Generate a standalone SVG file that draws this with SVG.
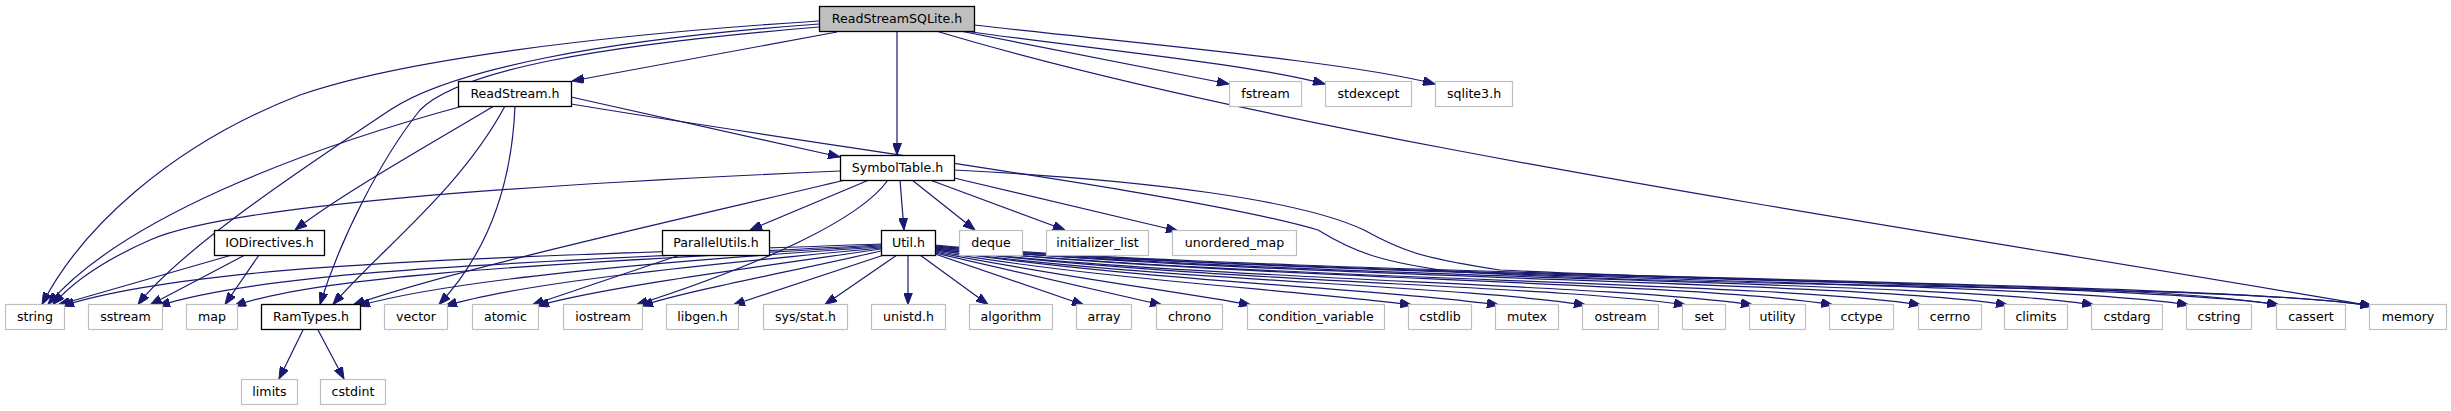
<svg xmlns="http://www.w3.org/2000/svg" width="2451" height="411" viewBox="0 0 2451 411">
<style>
.n rect{fill:#fff;stroke:#000;stroke-width:1.3}
.x rect{fill:#fff;stroke:#bfbfbf;stroke-width:1.2}
.r rect{fill:#bfbfbf;stroke:#000;stroke-width:1.3}
text{font-family:"DejaVu Sans","Liberation Sans",sans-serif;font-size:12.6px;fill:#000;text-anchor:middle}
#edges path{fill:none;stroke:#191970;stroke-width:1.2;marker-end:url(#a)}
</style>
<defs>
<marker id="a" markerUnits="userSpaceOnUse" markerWidth="12" markerHeight="9" refX="12" refY="4.5" orient="auto" viewBox="0 0 12 9"><path d="M0,0 L12,4.5 L0,9 z" fill="#191970" stroke="#191970" stroke-width="1"/></marker>
</defs>
<rect width="2451" height="411" fill="#fff"/>
<g id="edges">
<!-- root -->
<path d="M837,32 L572,81"/>
<path d="M897,31 L897,155"/>
<path d="M960,31 L1229,84"/>
<path d="M964,31 C1100,50 1250,64 1325,84"/>
<path d="M974,25 C1150,45 1350,62 1435,84"/>
<path d="M936,31 C1300,140 1900,225 2372,306"/>
<path d="M819,21 C600,35 400,60 300,95 C170,145 80,230 42,304.5"/>
<path d="M819,24 C600,40 450,70 390,110 C300,170 180,250 138,304.5"/>
<path d="M819,27 C600,45 460,70 420,110 C380,160 340,240 320,304.5"/>
<!-- ReadStream -->
<path d="M463,106 C300,150 120,220 48,304.5"/>
<path d="M494,106 C420,150 340,195 295,230"/>
<path d="M505,106 C460,190 380,250 333,304.5"/>
<path d="M515,106 C512,180 490,250 439,304.5"/>
<path d="M571,97 L840,157"/>
<path d="M571,104 C850,150 1200,195 1318,230 C1354,252 1380,262 1455,272 C1800,290 2250,285 2372,306"/>
<!-- SymbolTable -->
<path d="M840,171 C520,185 230,205 150,240 C100,262 70,285 53,304.5"/>
<path d="M845,180 C700,215 450,270 353,305"/>
<path d="M869,180 L750,230"/>
<path d="M888,180 C860,220 760,265 636,305"/>
<path d="M900,180 L904,230"/>
<path d="M912,180 L975,230"/>
<path d="M930,180 L1065,230"/>
<path d="M954,178 L1178,231"/>
<path d="M954,170 C1150,180 1300,200 1364,230 C1400,250 1420,258 1500,270 C1800,285 2150,283 2279,305"/>
<!-- IODirectives -->
<path d="M232,255 L58,305"/>
<path d="M245,255 L150,305"/>
<path d="M259,255 L225,304.5"/>
<!-- ParallelUtils -->
<path d="M680,255 L532,305"/>
<!-- RamTypes -->
<path d="M303,330 L279,379"/>
<path d="M318,330 L344,379"/>
<!-- Util left -->
<path d="M881,244 C500,258 200,262 62,306"/>
<path d="M881,245 C550,262 280,268 158,306"/>
<path d="M881,246 C600,262 330,272 234,306"/>
<path d="M881,247 C650,262 450,280 358,306"/>
<path d="M881,248 C700,265 520,283 445,306"/>
<path d="M881,249 C750,268 600,288 537,306"/>
<path d="M881,251 C790,272 690,290 641,306"/>
<path d="M884,255 L733,305"/>
<path d="M897,255 L825,304.5"/>
<path d="M908,255 L908,304.5"/>
<path d="M920,255 L988,304.5"/>
<!-- Util right -->
<path d="M935,254 L1084,305"/>
<path d="M935,253 L1162,305"/>
<path d="M935,252 C1050,275 1180,292 1251,305"/>
<path d="M935,251 C1100,280 1300,290 1412,305"/>
<path d="M935,250 C1150,282 1380,288 1499,305"/>
<path d="M935,250 C1150,280 1450,285 1586,305"/>
<path d="M935,249 C1200,282 1550,285 1686,305"/>
<path d="M935,249 C1200,280 1600,283 1753,305"/>
<path d="M935,248 C1250,280 1700,282 1833,305"/>
<path d="M935,248 C1250,280 1780,282 1921,305"/>
<path d="M935,247 C1300,280 1860,281 2008,305"/>
<path d="M935,247 C1300,279 1950,281 2094,305"/>
<path d="M935,246 C1300,278 2040,280 2189,305"/>
<path d="M935,246 C1300,278 2130,280 2279,305"/>
<path d="M935,245 C1300,278 2220,280 2372,306"/>
</g>
<g id="n0" class="r"><rect x="819.5" y="6.5" width="155" height="25"/><text x="897" y="23">ReadStreamSQLite.h</text></g>
<g id="n1" class="n"><rect x="458.5" y="81.5" width="113" height="25"/><text x="515" y="98">ReadStream.h</text></g>
<g id="n2" class="x"><rect x="1229.5" y="81.5" width="72" height="25"/><text x="1265.5" y="98">fstream</text></g>
<g id="n3" class="x"><rect x="1325.5" y="81.5" width="86" height="25"/><text x="1368.5" y="98">stdexcept</text></g>
<g id="n4" class="x"><rect x="1435.5" y="81.5" width="77" height="25"/><text x="1474" y="98">sqlite3.h</text></g>
<g id="n5" class="n"><rect x="840.5" y="155.5" width="114" height="25"/><text x="897.5" y="172">SymbolTable.h</text></g>
<g id="n6" class="n"><rect x="214.5" y="230.5" width="110" height="25"/><text x="269.5" y="247">IODirectives.h</text></g>
<g id="n7" class="n"><rect x="662.5" y="230.5" width="107" height="25"/><text x="716" y="247">ParallelUtils.h</text></g>
<g id="n8" class="n"><rect x="881.5" y="230.5" width="54" height="25"/><text x="908.5" y="247">Util.h</text></g>
<g id="n9" class="x"><rect x="959.5" y="230.5" width="63" height="25"/><text x="991" y="247">deque</text></g>
<g id="n10" class="x"><rect x="1046.5" y="230.5" width="102" height="25"/><text x="1097.5" y="247">initializer_list</text></g>
<g id="n11" class="x"><rect x="1172.5" y="230.5" width="124" height="25"/><text x="1234.5" y="247">unordered_map</text></g>
<g id="n12" class="x"><rect x="5.5" y="304.5" width="59" height="25"/><text x="35" y="321">string</text></g>
<g id="n13" class="x"><rect x="88.5" y="304.5" width="74" height="25"/><text x="125.5" y="321">sstream</text></g>
<g id="n14" class="x"><rect x="186.5" y="304.5" width="51" height="25"/><text x="212" y="321">map</text></g>
<g id="n15" class="n"><rect x="261.5" y="304.5" width="99" height="25"/><text x="311" y="321">RamTypes.h</text></g>
<g id="n16" class="x"><rect x="384.5" y="304.5" width="63" height="25"/><text x="416" y="321">vector</text></g>
<g id="n17" class="x"><rect x="472.5" y="304.5" width="66" height="25"/><text x="505.5" y="321">atomic</text></g>
<g id="n18" class="x"><rect x="563.5" y="304.5" width="79" height="25"/><text x="603" y="321">iostream</text></g>
<g id="n19" class="x"><rect x="666.5" y="304.5" width="72" height="25"/><text x="702.5" y="321">libgen.h</text></g>
<g id="n20" class="x"><rect x="763.5" y="304.5" width="84" height="25"/><text x="805.5" y="321">sys/stat.h</text></g>
<g id="n21" class="x"><rect x="871.5" y="304.5" width="74" height="25"/><text x="908.5" y="321">unistd.h</text></g>
<g id="n22" class="x"><rect x="969.5" y="304.5" width="83" height="25"/><text x="1011" y="321">algorithm</text></g>
<g id="n23" class="x"><rect x="1076.5" y="304.5" width="55" height="25"/><text x="1104" y="321">array</text></g>
<g id="n24" class="x"><rect x="1156.5" y="304.5" width="66" height="25"/><text x="1189.5" y="321">chrono</text></g>
<g id="n25" class="x"><rect x="1247.5" y="304.5" width="137" height="25"/><text x="1316" y="321">condition_variable</text></g>
<g id="n26" class="x"><rect x="1408.5" y="304.5" width="63" height="25"/><text x="1440" y="321">cstdlib</text></g>
<g id="n27" class="x"><rect x="1495.5" y="304.5" width="63" height="25"/><text x="1527" y="321">mutex</text></g>
<g id="n28" class="x"><rect x="1582.5" y="304.5" width="76" height="25"/><text x="1620.5" y="321">ostream</text></g>
<g id="n29" class="x"><rect x="1682.5" y="304.5" width="43" height="25"/><text x="1704" y="321">set</text></g>
<g id="n30" class="x"><rect x="1749.5" y="304.5" width="56" height="25"/><text x="1777.5" y="321">utility</text></g>
<g id="n31" class="x"><rect x="1829.5" y="304.5" width="64" height="25"/><text x="1861.5" y="321">cctype</text></g>
<g id="n32" class="x"><rect x="1918.5" y="304.5" width="63" height="25"/><text x="1950" y="321">cerrno</text></g>
<g id="n33" class="x"><rect x="2004.5" y="304.5" width="63" height="25"/><text x="2036" y="321">climits</text></g>
<g id="n34" class="x"><rect x="2091.5" y="304.5" width="71" height="25"/><text x="2127" y="321">cstdarg</text></g>
<g id="n35" class="x"><rect x="2186.5" y="304.5" width="65" height="25"/><text x="2219" y="321">cstring</text></g>
<g id="n36" class="x"><rect x="2276.5" y="304.5" width="69" height="25"/><text x="2311" y="321">cassert</text></g>
<g id="n37" class="x"><rect x="2369.5" y="304.5" width="77" height="25"/><text x="2408" y="321">memory</text></g>
<g id="n38" class="x"><rect x="241.5" y="379.5" width="56" height="25"/><text x="269.5" y="396">limits</text></g>
<g id="n39" class="x"><rect x="320.5" y="379.5" width="65" height="25"/><text x="353" y="396">cstdint</text></g>
</svg>
